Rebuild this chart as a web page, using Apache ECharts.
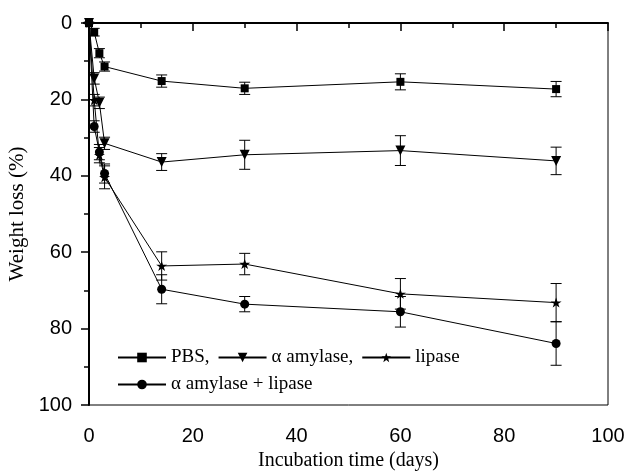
<!DOCTYPE html>
<html>
<head>
<meta charset="utf-8">
<script src="https://cdn.jsdelivr.net/npm/echarts@6/dist/echarts.min.js"></script>
<style>
  html, body { margin: 0; padding: 0; background: #fff; }
  #main { width: 638px; height: 473px; }
</style>
</head>
<body>
<div id="main"></div>
<script>
// incubation days
var days = [0, 1, 2, 3, 14, 30, 60, 90];

// weight loss (%) and error bars
var pbs      = [0, 2.4, 7.9, 11.4, 15.2, 17.1, 15.4, 17.3];
var pbsErr   = [0, 1.0, 1.2, 1.2, 1.6, 1.6, 2.1, 2.0];
var amy      = [0, 14.5, 20.9, 31.5, 36.4, 34.5, 33.4, 36.1];
var amyErr   = [0, 1.5, 1.5, 1.6, 2.2, 3.8, 3.9, 3.6];
var lip      = [0, 20.2, 34.6, 40.4, 63.6, 63.1, 70.9, 73.2];
var lipErr   = [0, 1.5, 2.0, 3.0, 3.7, 2.8, 4.0, 5.0];
var both     = [0, 27.1, 33.8, 39.4, 69.7, 73.6, 75.6, 83.9];
var bothErr  = [0, 1.5, 2.0, 2.5, 3.8, 2.0, 4.0, 5.7];

var xTicks = [0, 20, 40, 60, 80, 100];
var yTicks = [0, 20, 40, 60, 80, 100];

var names = ['PBS,', 'α amylase,', 'lipase', 'α amylase + lipase'];
var starPath = 'path://M50,0 L61.8,35.3 L99,35.3 L69,57.3 L80.3,93 L50,71.2 L19.7,93 L31,57.3 L1,35.3 L38.2,35.3 Z';

function pairs(vals) {
  return days.map(function (d, i) { return [d, vals[i]]; });
}
function errData(vals, errs) {
  return days.map(function (d, i) { return [d, vals[i] - errs[i], vals[i] + errs[i]]; });
}

function errorSeries(vals, errs) {
  return {
    type: 'custom',
    silent: true,
    z: 1,
    renderItem: function (params, api) {
      var x = api.value(0);
      var lo = api.coord([x, api.value(1)]);
      var hi = api.coord([x, api.value(2)]);
      var w = 5.5;
      var style = { stroke: '#000', lineWidth: 1 };
      return {
        type: 'group',
        children: [
          { type: 'line', shape: { x1: lo[0], y1: lo[1], x2: hi[0], y2: hi[1] }, style: style },
          { type: 'line', shape: { x1: lo[0] - w, y1: lo[1], x2: lo[0] + w, y2: lo[1] }, style: style },
          { type: 'line', shape: { x1: hi[0] - w, y1: hi[1], x2: hi[0] + w, y2: hi[1] }, style: style }
        ]
      };
    },
    encode: { x: 0, y: [1, 2] },
    data: errData(vals, errs)
  };
}

function lineSeries(name, vals, symbol, size, rotate) {
  return {
    name: name,
    type: 'line',
    z: 3,
    data: pairs(vals),
    symbol: symbol,
    symbolSize: size,
    symbolRotate: rotate || 0,
    showAllSymbol: true,
    lineStyle: { color: '#000', width: 1 },
    itemStyle: { color: '#000', borderWidth: 0 },
    animation: false
  };
}

var myChart = echarts.init(document.getElementById('main'));
var tickFont = { fontFamily: 'Liberation Sans', fontSize: 20, color: '#000' };
var legendText = { fontFamily: 'Liberation Serif', fontSize: 19, color: '#000' };

var option = {
  backgroundColor: '#fff',
  animation: false,
  grid: {
    left: 89, right: 30, top: 23, bottom: 68,
    outerBoundsMode: 'none',
    containLabel: false,
    show: true, borderColor: '#000', borderWidth: 1
  },
  legend: [{
    data: names.slice(0, 3),
    left: 112, top: 343,
    itemWidth: 48, itemHeight: 12, itemGap: 8,
    textStyle: legendText
  }, {
    data: names.slice(3),
    left: 112, top: 370,
    itemWidth: 48, itemHeight: 12,
    textStyle: legendText
  }],
  xAxis: {
    type: 'value',
    min: 0, max: 100, interval: 20,
    name: 'Incubation time (days)',
    nameLocation: 'middle',
    nameGap: 46,
    nameTextStyle: { fontFamily: 'Liberation Serif', fontSize: 20, color: '#000' },
    axisLine: { lineStyle: { color: '#000', width: 2 } },
    axisTick: { inside: false, length: 8, lineStyle: { color: '#000', width: 1.5 } },
    minorTick: { show: true, splitNumber: 2, length: 5, lineStyle: { color: '#000', width: 1.5 } },
    axisLabel: Object.assign({ margin: 21 }, tickFont),
    splitLine: { show: false }
  },
  yAxis: {
    type: 'value',
    inverse: true,
    min: 0, max: 100, interval: 20,
    name: 'Weight loss (%)',
    nameLocation: 'middle',
    nameGap: 56,
    nameTextStyle: { fontFamily: 'Liberation Serif', fontSize: 21, color: '#000' },
    axisLine: { lineStyle: { color: '#000', width: 2 } },
    axisTick: { inside: false, length: 8, lineStyle: { color: '#000', width: 1.5 } },
    minorTick: { show: true, splitNumber: 2, length: 5, lineStyle: { color: '#000', width: 1.5 } },
    axisLabel: Object.assign({ margin: 17 }, tickFont),
    splitLine: { show: false }
  },
  series: [
    errorSeries(pbs, pbsErr),
    errorSeries(amy, amyErr),
    errorSeries(lip, lipErr),
    errorSeries(both, bothErr),
    lineSeries(names[0], pbs, 'rect', 8),
    lineSeries(names[1], amy, 'triangle', 10, 180),
    lineSeries(names[2], lip, starPath, [11, 10]),
    lineSeries(names[3], both, 'circle', 9)
  ]
};
myChart.setOption(option);
</script>
</body>
</html>
